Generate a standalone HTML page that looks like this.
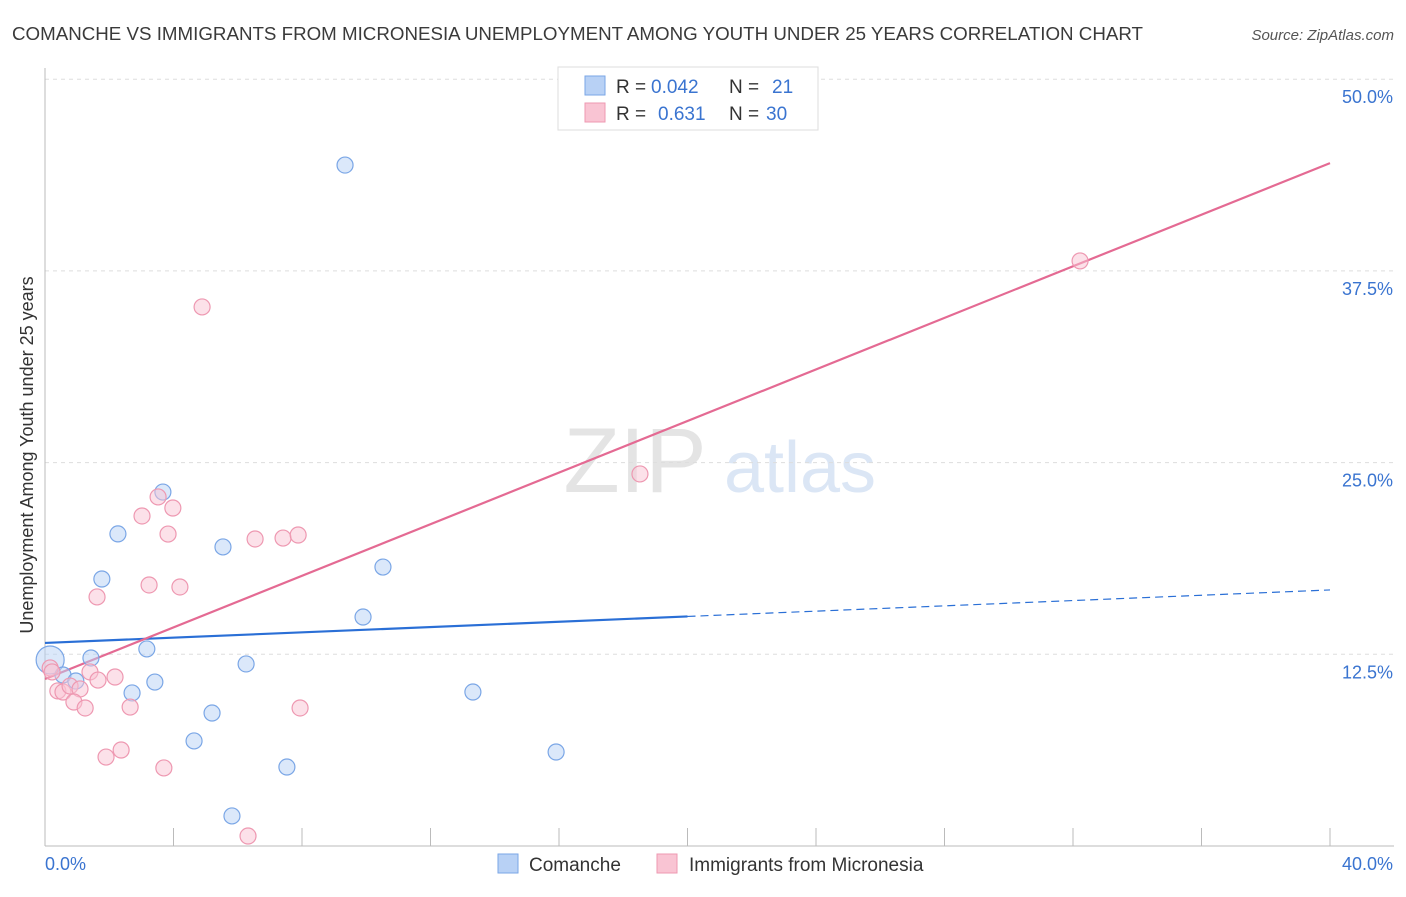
<!DOCTYPE html>
<html><head><meta charset="utf-8">
<style>
body{margin:0;background:#fff;font-family:"Liberation Sans",sans-serif;}
svg text{font-family:"Liberation Sans",sans-serif;}
</style></head>
<body>
<svg id="chart" width="1406" height="892" xmlns="http://www.w3.org/2000/svg">
<text x="12" y="40" font-size="18" fill="#3a3a3a" textLength="1131" lengthAdjust="spacingAndGlyphs">COMANCHE VS IMMIGRANTS FROM MICRONESIA UNEMPLOYMENT AMONG YOUTH UNDER 25 YEARS CORRELATION CHART</text>
<text x="1394" y="40" font-size="15" fill="#555" text-anchor="end" font-style="italic">Source: ZipAtlas.com</text>
<text transform="translate(33,455) rotate(-90)" font-size="18" fill="#333" text-anchor="middle">Unemployment Among Youth under 25 years</text>
<g>
<text x="635" y="492" font-size="92" fill="#e4e4e4" text-anchor="middle" font-family="Liberation Serif">ZIP</text>
<text x="800" y="492" font-size="72" fill="#dbe6f5" text-anchor="middle">atlas</text>
</g>
<g id="grid"></g>
<g id="axes"></g>
<g id="lines"></g>
<g id="points"></g>
<g>
<rect x="558" y="67" width="260" height="63" fill="#fff" stroke="#ddd"/>
<rect x="585" y="76" width="20" height="19" fill="#b8d1f5" stroke="#7aa6e6"/>
<rect x="585" y="103" width="20" height="19" fill="#f9c4d3" stroke="#ee98b1"/>
<text x="616" y="93" font-size="19" fill="#333">R =</text>
<text x="651" y="93" font-size="19" fill="#3a74d0">0.042</text>
<text x="729" y="93" font-size="19" fill="#333">N =</text>
<text x="772" y="93" font-size="19" fill="#3a74d0">21</text>
<text x="616" y="120" font-size="19" fill="#333">R =</text>
<text x="658" y="120" font-size="19" fill="#3a74d0">0.631</text>
<text x="729" y="120" font-size="19" fill="#333">N =</text>
<text x="766" y="120" font-size="19" fill="#3a74d0">30</text>
</g>
<g>
<rect x="498" y="854" width="20" height="19" fill="#b8d1f5" stroke="#7aa6e6"/>
<text x="529" y="871" font-size="19" fill="#333">Comanche</text>
<rect x="657" y="854" width="20" height="19" fill="#f9c4d3" stroke="#ee98b1"/>
<text x="689" y="871" font-size="19" fill="#333">Immigrants from Micronesia</text>
</g>
</svg>
<script>
const yTicks=[12.5,25,37.5,50];
const yTickLabels=["12.5%","25.0%","37.5%","50.0%"];
const xTicks=[0,4,8,12,16,20,24,28,32,36,40];
const blueX=[0.16,0.56,0.96,1.43,1.77,2.27,2.71,3.17,3.42,3.67,4.64,5.20,5.54,5.82,6.26,7.53,9.34,9.90,10.52,13.32,15.91];
const blueY=[12.13,11.15,10.76,12.26,17.41,20.35,9.98,12.85,10.69,23.08,6.85,8.67,19.50,1.96,11.87,5.15,44.40,14.93,18.19,10.04,6.13];
const pinkX=[0.16,0.40,0.56,0.78,1.09,0.90,1.25,1.40,1.62,1.65,1.90,2.18,2.37,2.65,3.02,3.24,3.52,3.70,3.83,3.98,4.20,4.89,6.32,6.54,7.41,7.88,7.94,18.52,32.22,0.22];
const pinkY=[11.61,10.11,10.04,10.43,10.24,9.39,9.00,11.35,16.24,10.82,5.80,11.02,6.26,9.06,21.52,17.02,22.76,5.09,20.34,22.04,16.89,35.15,0.65,20.02,20.08,20.28,9.00,24.26,38.15,11.35];
const blueTrend=[13.24,0.0864];
const pinkTrend=[10.89,0.841];
const NS="http://www.w3.org/2000/svg";
const X=v=>45+v/40*1285, Y=v=>846-v/12.5*191.7;
function mk(t,a,p){const e=document.createElementNS(NS,t);for(const k in a)e.setAttribute(k,a[k]);document.getElementById(p).appendChild(e);return e;}
yTicks.forEach((t,i)=>{
 const g=mk('line',{x1:45,x2:1394,y1:Y(t),y2:Y(t),stroke:'#ddd','stroke-dasharray':'4,4'},'grid');
 
 
 const l=mk('text',{x:1393,y:Y(t)+24,'font-size':18,fill:'#3a74d0','text-anchor':'end'},'axes');l.textContent=yTickLabels[i];
 
 
});
mk('line',{x1:45,x2:45,y1:68,y2:846,stroke:'#bbb'},'axes');
mk('line',{x1:45,x2:1394,y1:846,y2:846,stroke:'#bbb'},'axes');
xTicks.forEach(t=>{const e=mk('line',{x1:X(t),x2:X(t),y1:828,y2:846,stroke:'#bbb'},'axes');
 
 });
let a=mk('text',{x:45,y:870,'font-size':18,fill:'#3a74d0'},'axes');a.textContent="0.0%";


a=mk('text',{x:1393,y:870,'font-size':18,fill:'#3a74d0','text-anchor':'end'},'axes');a.textContent="40.0%";


blueX.forEach((x,i)=>{const c=mk('circle',{cx:X(x),cy:Y(blueY[i]),r:i==0?14:8,fill:'rgba(184,209,245,0.5)',stroke:'#7aa6e6','stroke-width':1.2},'points');
 
 });
pinkX.forEach((x,i)=>{const c=mk('circle',{cx:X(x),cy:Y(pinkY[i]),r:8,fill:'rgba(249,196,211,0.5)',stroke:'#ee98b1','stroke-width':1.2},'points');
 
 });
const bl=v=>blueTrend[0]+blueTrend[1]*v, pl=v=>pinkTrend[0]+pinkTrend[1]*v;
let ln=mk('line',{x1:X(0),y1:Y(bl(0)),x2:X(20),y2:Y(bl(20)),stroke:'#2a6fd6','stroke-width':2.2},'lines');


ln=mk('line',{x1:X(20),y1:Y(bl(20)),x2:X(40),y2:Y(bl(40)),stroke:'#2a6fd6','stroke-width':1.2,'stroke-dasharray':'8,5'},'lines');


ln=mk('line',{x1:X(0),y1:Y(pl(0)),x2:X(40),y2:Y(pl(40)),stroke:'#e46a93','stroke-width':2.2},'lines');


</script>
</body></html>
